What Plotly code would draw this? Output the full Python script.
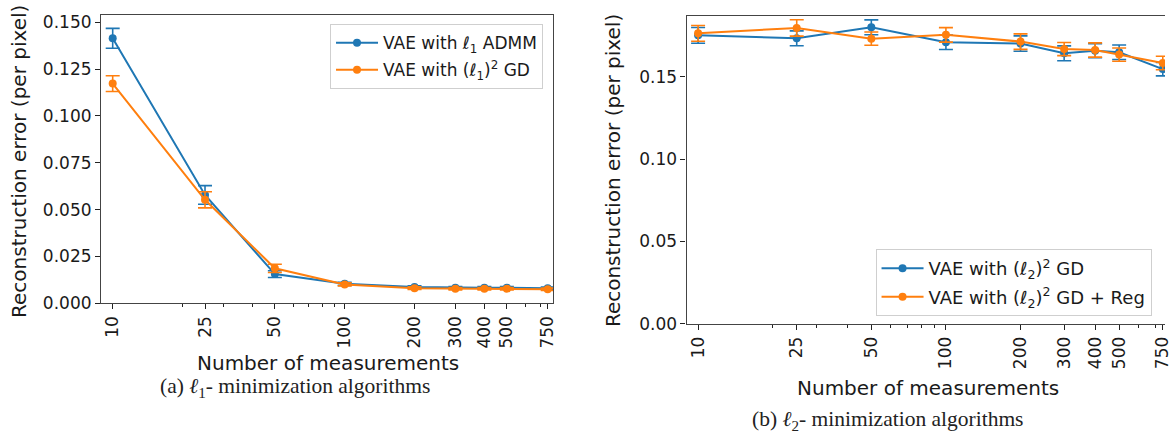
import plotly.graph_objects as go

# ---- data ----
n_meas = [10, 25, 50, 100, 200, 300, 400, 500, 750]
tick_labels = ["10", "25", "50", "100", "200", "300", "400", "500", "750"]
minor_ticks = [20, 30, 40, 60, 70, 80, 90, 600, 700]

l1_admm = [0.1415, 0.0578, 0.0155, 0.0103, 0.0086, 0.0082, 0.0082, 0.0082, 0.0080]
l1_admm_err = [0.0053, 0.0050, 0.0018, 0.0008, 0.0007, 0.0006, 0.0006, 0.0006, 0.0006]
l1sq_gd = [0.1173, 0.0552, 0.0186, 0.0100, 0.0080, 0.0077, 0.0077, 0.0077, 0.0074]
l1sq_gd_err = [0.0042, 0.0043, 0.0022, 0.0008, 0.0007, 0.0006, 0.0006, 0.0006, 0.0006]

l2sq_gd = [0.1751, 0.1733, 0.1800, 0.1709, 0.1701, 0.1642, 0.1658, 0.1648, 0.1546]
l2sq_gd_err = [0.0048, 0.0045, 0.0045, 0.0044, 0.0047, 0.0045, 0.0043, 0.0044, 0.0041]
l2sq_reg = [0.1763, 0.1796, 0.1731, 0.1754, 0.1713, 0.1668, 0.1662, 0.1634, 0.1583]
l2sq_reg_err = [0.0048, 0.0050, 0.0040, 0.0044, 0.0047, 0.0040, 0.0043, 0.0040, 0.0041]

names_left = ["VAE with ℓ<sub>1</sub> ADMM", "VAE with (ℓ<sub>1</sub>)<sup>2</sup> GD"]
names_right = ["VAE with (ℓ<sub>2</sub>)<sup>2</sup> GD", "VAE with (ℓ<sub>2</sub>)<sup>2</sup> GD + Reg"]

BLUE = "#1f77b4"
ORANGE = "#ff7f0e"
W, H = 1172, 443
FONT = "DejaVu Sans"


def px(X):
    return X / W


def py(Y):
    return 1 - Y / H


fig = go.Figure()


def add_series(x, y, err, color, name, xa, ya, legend, group):
    fig.add_trace(go.Scatter(
        x=x, y=y, mode="lines+markers", name=name,
        line=dict(color=color, width=2),
        marker=dict(color=color, size=8),
        error_y=dict(type="data", array=err, visible=True, color=color,
                     thickness=1.6, width=7),
        xaxis=xa, yaxis=ya, legend=legend, legendgroup=group,
    ))


add_series(n_meas, l1_admm, l1_admm_err, BLUE, names_left[0], "x", "y", "legend", "a1")
add_series(n_meas, l1sq_gd, l1sq_gd_err, ORANGE, names_left[1], "x", "y", "legend", "a2")
add_series(n_meas, l2sq_gd, l2sq_gd_err, BLUE, names_right[0], "x2", "y2", "legend2", "b1")
add_series(n_meas, l2sq_reg, l2sq_reg_err, ORANGE, names_right[1], "x2", "y2", "legend2", "b2")

tickfont = dict(family=FONT, size=17, color="#1a1a1a")
common_x = dict(
    type="log", tickmode="array", tickvals=n_meas, ticktext=tick_labels,
    tickangle=-90, ticks="outside", ticklen=5, tickwidth=1.2, tickcolor="#222",
    showgrid=False, zeroline=False, showline=True, linecolor="#444", linewidth=1.3,
    mirror=True, tickfont=tickfont, ticklabeloverflow="allow",
    minor=dict(tickmode="array", tickvals=minor_ticks, ticks="outside",
               ticklen=3, tickwidth=1, tickcolor="#222", showgrid=False),
)
common_y = dict(
    ticks="outside", ticklen=5, tickwidth=1.2, tickcolor="#222",
    showgrid=False, zeroline=False, showline=True, linecolor="#444", linewidth=1.3,
    tickfont=tickfont,
)

fig.update_layout(
    width=W, height=H,
    margin=dict(l=0, r=0, t=0, b=0),
    paper_bgcolor="white", plot_bgcolor="white",
    showlegend=True,
    xaxis=dict(**common_x, domain=[px(101.7), px(556.7)], range=[0.950, 2.8995], anchor="y"),
    yaxis=dict(**common_y, domain=[py(309.5), py(13.3)], range=[0, 0.154],
               tickvals=[0, 0.025, 0.05, 0.075, 0.1, 0.125, 0.15],
               ticktext=["0.000", "0.025", "0.050", "0.075", "0.100", "0.125", "0.150"],
               mirror=True, anchor="x"),
    xaxis2=dict(**common_x, domain=[px(690.7), 1.0], range=[0.9535, 2.884], anchor="y2"),
    yaxis2=dict(**common_y, domain=[py(330.7), py(14.3)], range=[0, 0.1869],
                tickvals=[0, 0.05, 0.1, 0.15],
                ticktext=["0.00", "0.05", "0.10", "0.15"],
                mirror=False, anchor="x2"),
    legend=dict(x=px(332), y=py(22.7), xanchor="left", yanchor="top",
                bgcolor="rgba(255,255,255,0.85)", bordercolor="#cfcfcf", borderwidth=1,
                font=dict(family=FONT, size=17, color="#1a1a1a"),
                itemwidth=42, tracegroupgap=2, traceorder="grouped"),
    legend2=dict(x=px(880.8), y=py(254), xanchor="left", yanchor="top",
                 bgcolor="rgba(255,255,255,0.85)", bordercolor="#cfcfcf", borderwidth=1,
                 font=dict(family=FONT, size=18, color="#1a1a1a"),
                 itemwidth=42, tracegroupgap=2, traceorder="grouped"),
)

title_font = dict(family=FONT, size=20, color="#1a1a1a")
cap_font = dict(family="Liberation Serif", size=21.5, color="#222")
ann = [
    dict(text="Number of measurements", x=px(329.5), y=py(371), font=title_font),
    dict(text="Reconstruction error (per pixel)", x=px(19), y=py(163.5), font=title_font, textangle=-90),
    dict(text="Number of measurements", x=px(933.5), y=py(396.7), font=title_font),
    dict(text="Reconstruction error (per pixel)", x=px(616), y=py(173.5), font=title_font, textangle=-90),
    dict(text="(a) <i>ℓ</i><sub>1</sub>- minimization algorithms", x=px(296.7), y=py(396.7), font=cap_font),
    dict(text="(b) <i>ℓ</i><sub>2</sub>- minimization algorithms", x=px(892.6), y=py(430), font=cap_font),
]
for a in ann:
    fig.add_annotation(xref="paper", yref="paper", showarrow=False,
                       xanchor="center", yanchor="middle", **a)

fig.write_html(
    "out.html",
    config={"displayModeBar": False},
    post_script="document.body.style.margin='0';document.body.style.overflow='hidden';",
)
